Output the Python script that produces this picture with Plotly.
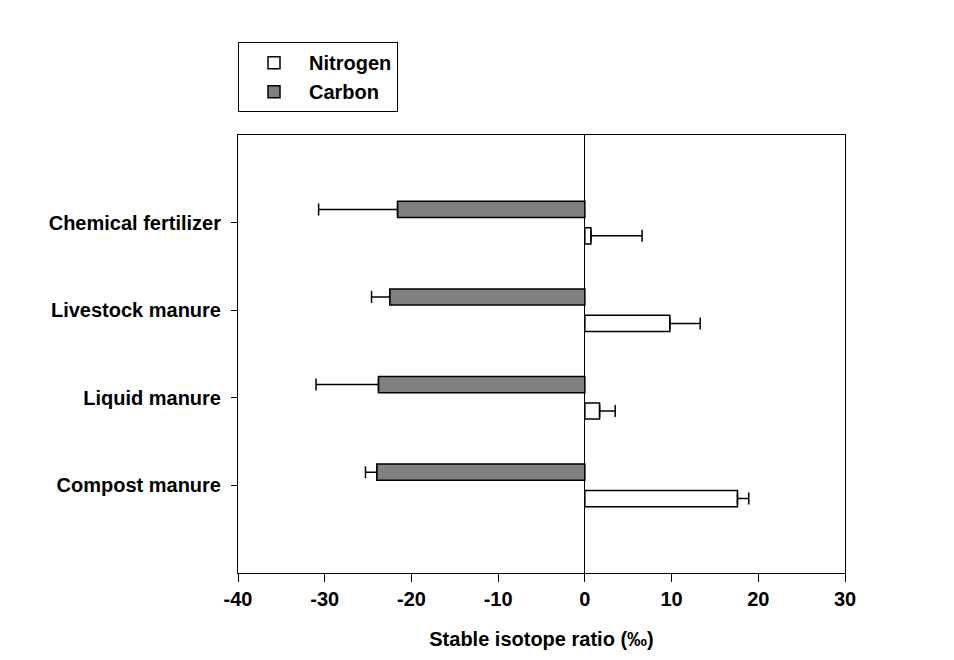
import plotly.graph_objects as go

categories = ['Compost manure', 'Liquid manure', 'Livestock manure', 'Chemical fertilizer']
carbon = [-24.0, -23.8, -22.5, -21.6]
carbon_err = [1.3, 7.2, 2.1, 9.1]
nitrogen = [17.6, 1.7, 9.8, 0.7]
nitrogen_err = [1.3, 1.8, 3.5, 5.9]
x_ticks = [-40, -30, -20, -10, 0, 10, 20, 30]
x_ticktext = ['-40', '-30', '-20', '-10', '0', '10', '20', '30']

FONT = 'Arial, Liberation Sans, sans-serif'
FS = 20
bar_w = 0.185

fig = go.Figure()
fig.add_trace(go.Bar(
    y=categories, x=nitrogen, orientation='h', name='Nitrogen',
    width=bar_w, offset=-0.243,
    marker=dict(color='white', line=dict(color='black', width=1.5)),
    error_x=dict(type='data', symmetric=False, array=nitrogen_err,
                 arrayminus=[0] * 4, color='black', thickness=1.5, width=6),
))
fig.add_trace(go.Bar(
    y=categories, x=carbon, orientation='h', name='Carbon',
    width=bar_w, offset=0.058,
    marker=dict(color='#808080', line=dict(color='black', width=1.5)),
    error_x=dict(type='data', symmetric=False, array=[0] * 4,
                 arrayminus=carbon_err, color='black', thickness=1.5, width=6),
))

# page body has an 8px margin, so the figure is shrunk and shifted to match
fig.update_layout(
    width=946, height=652,
    margin=dict(l=230, r=109, t=127, b=87),
    plot_bgcolor='white', paper_bgcolor='white',
    font=dict(family=FONT, size=FS, color='black'),
    barmode='overlay',
    showlegend=True,
    legend=dict(x=0, y=1.212, xanchor='left', yanchor='top',
                bordercolor='black', borderwidth=1, bgcolor='white',
                font=dict(family=FONT, size=FS, weight='bold'),
                traceorder='normal', itemwidth=60, tracegroupgap=0),
)
fig.update_xaxes(
    range=[-40, 30], tickvals=x_ticks, ticktext=x_ticktext,
    ticks='outside', ticklen=8,
    tickwidth=1, tickcolor='black', showline=True, linecolor='black',
    linewidth=1, mirror=True, showgrid=False, zeroline=True,
    zerolinecolor='black', zerolinewidth=1,
    tickfont=dict(family=FONT, size=FS, weight='bold'),
    title=dict(text='Stable isotope ratio (‰)', standoff=22,
               font=dict(family=FONT, size=FS, weight='bold')),
)
fig.update_yaxes(
    type='category', categoryorder='array', categoryarray=categories,
    range=[-1, 4], ticks='outside', ticklen=6, tickwidth=1,
    tickcolor='black', showline=True, linecolor='black', linewidth=1,
    mirror=True, showgrid=False, ticklabelstandoff=6,
    tickfont=dict(family=FONT, size=FS, weight='bold'),
)

fig.write_html('out.html')
